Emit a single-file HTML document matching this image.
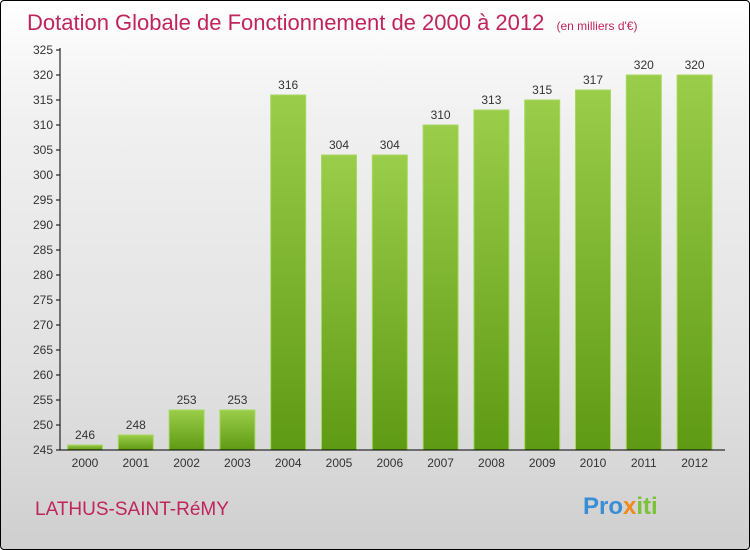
<!DOCTYPE html>
<html><head><meta charset="utf-8"><style>
body{margin:0;width:750px;height:550px;overflow:hidden;font-family:"Liberation Sans",sans-serif}
#frame{position:absolute;left:0;top:0;width:748px;height:548px;border:1px solid #000;border-radius:4px;background:linear-gradient(#fff,#f1f1f1 20%,#e0e0e0 70%,#cfcfcf)}
</style></head><body>
<div id="frame"></div>
<svg id="c" width="750" height="550" style="position:absolute;left:0;top:0">
<defs><linearGradient id="g" x1="0" y1="0" x2="0" y2="1"><stop offset="0" stop-color="#9acd4a"/><stop offset="1" stop-color="#5f9a14"/></linearGradient></defs>
<text x="27" y="30" font-size="22" fill="#c0245c">Dotation Globale de Fonctionnement de 2000 à 2012 <tspan font-size="12" dx="6">(en milliers d'€)</tspan></text>
<text x="35" y="515" font-size="19" fill="#c0245c">LATHUS-SAINT-RéMY</text>
<text x="583" y="514" font-size="24" font-weight="bold" fill="#3a8ed6">Pro<tspan fill="#f08a1c">x</tspan><tspan fill="#7cc13a">iti</tspan></text>
<g id="plot"></g>
</svg>
<script>
const categories=["2000","2001","2002","2003","2004","2005","2006","2007","2008","2009","2010","2011","2012"];
const values=[246,248,253,253,316,304,304,310,313,315,317,320,320];
const yTicks=[245,250,255,260,265,270,275,280,285,290,295,300,305,310,315,320,325];
const NS="http://www.w3.org/2000/svg";
const g=document.getElementById('plot');
const y=v=>450-(v-245)*5;
const x=i=>85+i*50.8;
function mk(t,a){const e=document.createElementNS(NS,t);for(const k in a)e.setAttribute(k,a[k]);g.appendChild(e);return e;}
yTicks.forEach(t=>{
 const l=mk('line',{x1:56,x2:60,y1:y(t),y2:y(t),stroke:'#000'});
 
 
 const tx=mk('text',{x:53,y:y(t)+4,'text-anchor':'end','font-size':12,fill:'#333'});tx.textContent=t;
 
 
});
values.forEach((v,i)=>{
 const r=mk('rect',{x:x(i)-17.5,y:y(v),width:35,height:450-y(v),fill:'url(#g)',stroke:'#a8d860','stroke-width':1});
 
 
 const t=mk('text',{x:x(i),y:y(v)-6,'text-anchor':'middle','font-size':12,fill:'#333'});t.textContent=v;
 
 
 const c=mk('text',{x:x(i),y:467,'text-anchor':'middle','font-size':12,fill:'#333'});c.textContent=categories[i];
 
 
});
const ya=mk('line',{x1:60,x2:60,y1:48,y2:450,stroke:'#000'});


const xa=mk('line',{x1:60,x2:725,y1:450,y2:450,stroke:'#000'});


</script>
</body></html>
